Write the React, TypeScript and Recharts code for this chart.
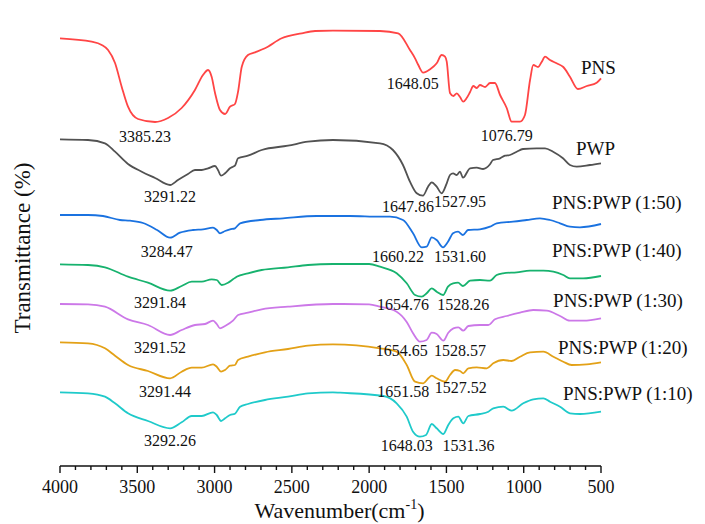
import { LineChart, Line, XAxis, YAxis, ReferenceDot } from 'recharts';

// wavenumber (cm-1), stacked transmittance (offset units)
const pns: [number, number][] = [
  [4000, 427.7], [3795, 424.3], [3730, 421], [3689, 416], [3644, 403], [3601, 379.3], [3560, 359.3],
  [3495, 347], [3385, 344], [3301, 348], [3213, 358], [3127, 376], [3075, 391], [3042, 396],
  [3019, 389.3], [2997, 373], [2965, 356], [2932, 352], [2900, 359.3], [2868, 362], [2848, 374.3],
  [2824, 399.3], [2784, 411], [2738, 413.7], [2674, 417.7], [2566, 427.7], [2436, 432.7], [2350, 435],
  [2234, 435.3], [1930, 435], [1812, 432.7], [1736, 416], [1703, 407.7], [1682, 401], [1650, 393.3],
  [1606, 396.7], [1563, 402.7], [1531, 411], [1509, 409.3], [1498, 404.3], [1477, 373], [1455, 370],
  [1433, 372.7], [1412, 369], [1391, 364.3], [1369, 368], [1347, 374], [1326, 380], [1304, 378],
  [1283, 381], [1250, 379], [1218, 383], [1186, 383], [1153, 371], [1110, 358], [1078, 344.3],
  [1024, 344.3], [992, 351], [959, 386], [938, 401], [907, 399], [884, 404], [862, 409.3], [830, 406],
  [787, 402.7], [744, 399], [701, 389.3], [649, 377], [592, 380], [528, 383.3], [500, 387.7],
];

const pwp: [number, number][] = [
  [4000, 326.7], [3819, 326], [3709, 322.7], [3644, 314.3], [3560, 302], [3471, 294.3], [3385, 288],
  [3288, 281], [3237, 286], [3172, 292], [3127, 296], [3083, 296], [3042, 297.7], [2997, 300],
  [2978, 296], [2958, 290.3], [2932, 292.7], [2900, 297.7], [2881, 299.3], [2868, 300.3], [2848, 307.7],
  [2784, 310.3], [2695, 316], [2525, 320.3], [2396, 324.3], [2234, 326], [1930, 322.7], [1846, 316],
  [1781, 301], [1736, 284.3], [1692, 272.7], [1652, 270.3], [1619, 279.3], [1595, 283.7], [1563, 279.3],
  [1531, 272.7], [1498, 282.7], [1477, 291], [1457, 292.7], [1433, 291], [1412, 294.3], [1393, 288.3],
  [1347, 297.7], [1304, 298.3], [1263, 297], [1218, 301.7], [1199, 306], [1153, 307.7], [1121, 310.3],
  [1089, 311], [1045, 314.3], [1005, 317], [916, 317.7], [862, 317.7], [810, 314.3], [746, 307.7],
  [701, 301], [657, 299.3], [571, 301], [500, 302.7],
];

const mix50: [number, number][] = [
  [4000, 251], [3819, 251], [3722, 250], [3612, 246], [3547, 245.3], [3463, 243], [3372, 236],
  [3288, 228.3], [3224, 233.3], [3140, 236], [3075, 236.7], [3010, 238.3], [2986, 236], [2965, 232.7],
  [2932, 235], [2900, 236.7], [2868, 237.7], [2835, 242.7], [2706, 246], [2557, 247.7], [2339, 250],
  [2124, 250], [1930, 249.3], [1865, 249.3], [1781, 246], [1716, 232.7], [1660, 218.7], [1628, 219.3],
  [1595, 228.7], [1563, 226], [1522, 218.7], [1490, 224.3], [1457, 232.7], [1425, 234.3], [1393, 231],
  [1360, 236], [1283, 236.7], [1218, 239.3], [1175, 242.7], [1069, 244.3], [981, 246], [895, 247.7],
  [830, 246], [765, 242.7], [701, 239.3], [636, 238.7], [500, 242],
];

const mix40: [number, number][] = [
  [4000, 201.7], [3819, 201], [3709, 198.7], [3560, 189.3], [3431, 183.3], [3288, 175.3], [3213, 180],
  [3148, 184.3], [3083, 184.3], [3019, 186.7], [2986, 186], [2954, 181], [2913, 183.3], [2881, 186.7],
  [2857, 189.3], [2784, 192.7], [2695, 196], [2525, 198.7], [2396, 201], [2234, 202], [2000, 202],
  [1930, 199.3], [1822, 192.7], [1757, 182.7], [1703, 171], [1660, 169.3], [1628, 172.7], [1595, 177.7],
  [1563, 174.3], [1522, 171], [1490, 179.3], [1457, 182.7], [1425, 183.3], [1393, 180], [1347, 185.3],
  [1283, 186], [1218, 185.3], [1175, 191], [1134, 192.7], [1045, 193.7], [959, 195.3], [873, 195.3],
  [808, 194.3], [744, 191], [701, 187.7], [616, 187.7], [500, 190],
];

const mix30: [number, number][] = [
  [4000, 162], [3819, 161.7], [3709, 159.3], [3560, 146.7], [3431, 141], [3288, 131], [3213, 136],
  [3127, 141], [3062, 142], [3010, 145.3], [2986, 142], [2965, 137.7], [2932, 140], [2881, 145.3],
  [2848, 151], [2784, 153.3], [2695, 156.7], [2525, 159.3], [2234, 162], [2000, 161.7], [1930, 159.3],
  [1822, 154.3], [1757, 144], [1716, 132.7], [1671, 124.3], [1628, 126], [1595, 133.3], [1563, 132],
  [1520, 125.3], [1488, 133.3], [1455, 137.7], [1423, 138.7], [1391, 135.3], [1358, 140], [1283, 141],
  [1229, 141], [1186, 146.7], [1110, 150], [1024, 153.3], [938, 156], [851, 155.3], [765, 150],
  [701, 145.3], [614, 145.3], [500, 147.7],
];

const mix20: [number, number][] = [
  [4000, 123.7], [3819, 122.7], [3709, 117.7], [3644, 110.3], [3560, 101], [3431, 95], [3288, 87.7],
  [3213, 94.3], [3148, 98.3], [3083, 98.3], [3010, 101.7], [2986, 99.3], [2958, 94.3], [2932, 96],
  [2900, 100.3], [2868, 101], [2848, 106], [2784, 109.3], [2674, 113.7], [2525, 117], [2396, 120.3],
  [2234, 121.7], [1930, 117.7], [1822, 114.3], [1757, 101], [1703, 84.3], [1650, 82.7], [1617, 87.7],
  [1595, 90.3], [1563, 87.7], [1509, 84.3], [1477, 91], [1444, 96], [1412, 95], [1391, 92.7],
  [1358, 97.7], [1304, 98.7], [1239, 97.7], [1197, 102.7], [1132, 106], [1078, 105], [1024, 109.3],
  [959, 113.7], [873, 114.3], [808, 109.3], [744, 104.3], [690, 101], [592, 101.7], [500, 103.7],
];

const mix10: [number, number][] = [
  [4000, 73.7], [3819, 72.7], [3709, 69.3], [3644, 62.7], [3560, 52.7], [3431, 45], [3288, 37.7],
  [3213, 43.7], [3148, 50], [3083, 50], [3010, 53.7], [2986, 51], [2958, 45], [2932, 47.7], [2900, 51],
  [2868, 52.3], [2835, 59.3], [2784, 62], [2674, 66], [2525, 69.3], [2396, 72.7], [2234, 73.7],
  [2188, 73.3], [1908, 70], [1822, 62.7], [1757, 49.3], [1716, 34.3], [1671, 29.3], [1632, 31],
  [1595, 42], [1563, 37.7], [1520, 32], [1488, 41], [1455, 47.7], [1423, 49.3], [1391, 42.7],
  [1358, 50], [1283, 52], [1229, 54.3], [1197, 57.7], [1132, 59.3], [1078, 55.3], [1003, 62.7],
  [938, 66.7], [873, 67.7], [830, 64.3], [765, 59.3], [701, 52.7], [636, 52], [500, 54.3],
];

const seriesColors = ['#ff4545', '#525252', '#1a72e0', '#17b26e', '#cc78e8', '#e3a117', '#1fcaca'];
const seriesData = [pns, pwp, mix50, mix40, mix30, mix20, mix10];

// curve names, placed at [wavenumber, offset]
const seriesNames: [string, number, number][] = [
  ['PNS', 629, 399],
  ['PWP', 662, 318],
  ['PNS:PWP (1:50)', 817, 264],
  ['PNS:PWP (1:40)', 817, 216],
  ['PNS:PWP (1:30)', 810, 166],
  ['PNS:PWP (1:20)', 778, 119],
  ['PNS:PWP (1:10)', 746, 73],
];

// peak annotations
const peakLabels: [string, number, number][] = [
  ['3385.23', 3450, 329.3], ['1648.05', 1718, 383], ['1076.79', 1110, 331],
  ['3291.22', 3288, 270], ['1647.86', 1749, 259.3], ['1527.95', 1412, 264.3],
  ['3284.47', 3310, 214.3], ['1660.22', 1813, 210], ['1531.60', 1412, 210],
  ['3291.84', 3353, 163.3], ['1654.76', 1781, 162], ['1528.26', 1391, 162],
  ['3291.52', 3353, 118.7], ['1654.65', 1789, 115.3], ['1528.57', 1412, 115.3],
  ['3291.44', 3321, 75], ['1651.58', 1779, 74.3], ['1527.52', 1408, 78.3],
  ['3292.26', 3288, 26], ['1648.03', 1757, 21], ['1531.36', 1358, 21],
];

// every 100 cm-1 gets a tick, every 500 a labelled one
const axisTicks = [
  4000, 3900, 3800, 3700, 3600, 3500, 3400, 3300, 3200, 3100, 3000, 2900, 2800, 2700, 2600, 2500,
  2400, 2300, 2200, 2100, 2000, 1900, 1800, 1700, 1600, 1500, 1400, 1300, 1200, 1100, 1000, 900,
  800, 700, 600, 500,
];

const FONT = 'Liberation Serif, Times New Roman, serif';

const toRows = (pts: [number, number][]) => pts.map(([w, t]) => ({ w, t }));

const textAt = (text: string, size: number, anchor: 'start' | 'middle') => (props: any) => {
  const vb = props.viewBox ?? props;
  return (
    <text x={vb.x} y={vb.y} dy="0.35em" textAnchor={anchor} fontSize={size} fontFamily={FONT} fill="#111">
      {text}
    </text>
  );
};

const WaveTick = (props: any) => {
  const { x, y, payload } = props;
  const major = payload.value % 500 === 0;
  return (
    <g>
      <line x1={x} x2={x} y1={y} y2={y + (major ? 7 : 4)} stroke="#111" strokeWidth={1.4} />
      {major && (
        <text x={x} y={y + 27} textAnchor="middle" fontSize={18} fontFamily={FONT} fill="#111">
          {payload.value}
        </text>
      )}
    </g>
  );
};

const XTitle = (props: any) => {
  const { x, y, width } = props.viewBox;
  const cx = x + width / 2 + 9;
  return (
    <text x={cx} y={y + 52} textAnchor="middle" fontSize={22} fontFamily={FONT} fill="#111">
      Wavenumber(cm
      <tspan fontSize={14} dy={-9}>-1</tspan>
      <tspan dy={9}>)</tspan>
    </text>
  );
};

const YTitle = (props: any) => {
  const { y, height } = props.viewBox;
  const cx = 22;
  const cy = y + height / 2 + 7;
  return (
    <text
      x={cx}
      y={cy}
      dy="0.35em"
      textAnchor="middle"
      transform={`rotate(-90, ${cx}, ${cy})`}
      fontSize={23}
      fontFamily={FONT}
      fill="#111"
    >
      Transmittance (%)
    </text>
  );
};

export default function App() {
  return (
    <div style={{ position: 'absolute', left: 0, top: 0, background: '#fff' }}>
      <LineChart width={705} height={524} margin={{ top: 16, right: 104, bottom: 0, left: 0 }}>
        <XAxis
          dataKey="w"
          type="number"
          domain={[500, 4000]}
          reversed
          ticks={axisTicks}
          interval={0}
          height={58}
          tickSize={0}
          tickMargin={0}
          tickLine={false}
          axisLine={{ stroke: '#111', strokeWidth: 1.5 }}
          tick={<WaveTick />}
          label={<XTitle />}
        />
        <YAxis
          type="number"
          domain={[0, 450]}
          width={60}
          axisLine={false}
          tick={false}
          tickLine={false}
          label={<YTitle />}
        />
        {seriesData.map((pts, i) => (
          <Line
            key={seriesNames[i][0]}
            data={toRows(pts)}
            dataKey="t"
            type="monotone"
            stroke={seriesColors[i]}
            strokeWidth={1.8}
            dot={false}
            activeDot={false}
            isAnimationActive={false}
          />
        ))}
        {peakLabels.map(([text, w, t]) => (
          <ReferenceDot
            key={text + w}
            x={w}
            y={t}
            r={0}
            fill="none"
            stroke="none"
            label={{ content: textAt(text, 16, 'middle') }}
          />
        ))}
        {seriesNames.map(([text, w, t]) => (
          <ReferenceDot
            key={text}
            x={w}
            y={t}
            r={0}
            fill="none"
            stroke="none"
            label={{ content: textAt(text, 19, 'start') }}
          />
        ))}
      </LineChart>
    </div>
  );
}
